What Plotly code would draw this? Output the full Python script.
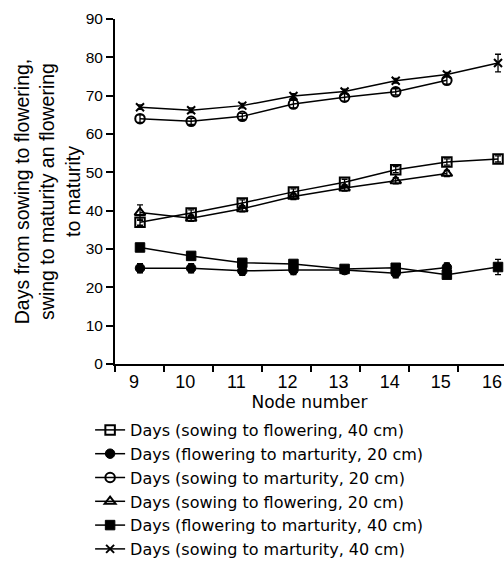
import plotly.graph_objects as go

nodes = [9, 10, 11, 12, 13, 14, 15, 16]

sow_flow_40 = [37.0, 39.4, 42.0, 44.9, 47.4, 50.7, 52.7, 53.5]
sow_flow_40_err = [0.8, 0.8, 0.8, 0.8, 0.8, 0.8, 0.8, 0.8]

flow_mat_20 = [25.0, 25.0, 24.3, 24.5, 24.5, 23.7, 25.2, None]
flow_mat_20_err = [1.2, 1.2, 1.2, 1.2, 1.0, 1.2, 1.2, 0]

sow_mat_20 = [64.0, 63.3, 64.6, 67.8, 69.6, 71.0, 74.0, None]
sow_mat_20_err = [1.0, 0.8, 0.8, 1.0, 1.0, 0.8, 1.0, 0]

sow_flow_20 = [39.5, 38.0, 40.5, 43.7, 45.9, 47.8, 49.7, None]
sow_flow_20_err = [2.0, 0.8, 0.8, 0.8, 0.8, 0.8, 0.8, 0]

flow_mat_40 = [30.4, 28.2, 26.4, 26.1, 24.8, 25.1, 23.3, 25.3]
flow_mat_40_err = [1.0, 0.8, 0.8, 0.8, 0.8, 0.8, 0.8, 2.0]

sow_mat_40 = [67.0, 66.2, 67.4, 69.9, 71.1, 73.9, 75.5, 78.5]
sow_mat_40_err = [0.6, 0.6, 0.6, 0.6, 0.6, 0.6, 0.6, 2.3]

y_ticks = [0, 10, 20, 30, 40, 50, 60, 70, 80, 90]

series = [
    ("Days (sowing to flowering, 40 cm)", sow_flow_40, sow_flow_40_err, "square-open"),
    ("Days (flowering to marturity, 20 cm)", flow_mat_20, flow_mat_20_err, "circle"),
    ("Days (sowing to marturity, 20 cm)", sow_mat_20, sow_mat_20_err, "circle-open"),
    ("Days (sowing to flowering, 20 cm)", sow_flow_20, sow_flow_20_err, "triangle-up-open"),
    ("Days (flowering to marturity, 40 cm)", flow_mat_40, flow_mat_40_err, "square"),
    ("Days (sowing to marturity, 40 cm)", sow_mat_40, sow_mat_40_err, "x-thin-open"),
]

TICKFONT = "Liberation Sans, Arial, sans-serif"
TEXTFONT = "DejaVu Sans, Verdana, sans-serif"

fig = go.Figure()
for name, vals, err, sym in series:
    xs = [n for n, v in zip(nodes, vals) if v is not None]
    ys = [v for v in vals if v is not None]
    es = [e for e, v in zip(err, vals) if v is not None]
    fig.add_trace(go.Scatter(
        x=xs, y=ys, name=name, mode="lines+markers",
        line=dict(color="black", width=1.5),
        marker=dict(symbol=sym, size=9.5 if "x" not in sym else 8, color="black",
                    line=dict(color="black", width=2 if "open" in sym else 1)),
        error_y=dict(type="data", array=es, color="black", thickness=1.3, width=3),
        cliponaxis=False,
    ))

fig.update_layout(
    width=504, height=578,
    margin=dict(l=115, r=0, t=19, b=214),
    plot_bgcolor="white", paper_bgcolor="white",
    font=dict(family=TEXTFONT, size=16, color="black"),
    showlegend=True,
    legend=dict(x=-0.064, y=-0.142, xanchor="left", yanchor="top",
                font=dict(family=TEXTFONT, size=16, color="black"), itemwidth=30,
                tracegroupgap=0, bgcolor="rgba(0,0,0,0)"),
)
fig.update_xaxes(
    range=[8.511, 16.117], tickvals=nodes, ticktext=[str(n) for n in nodes],
    ticks="", showline=True, linecolor="black", linewidth=2,
    showgrid=False, zeroline=False,
    tickfont=dict(family=TICKFONT, size=18),
    ticklabeloverflow="allow", ticklabelshift=-6,
    minor=dict(ticks="outside", tick0=8.511, dtick=0.958, ticklen=6,
               tickwidth=2, tickcolor="black", showgrid=False),
    title=dict(text="Node number", font=dict(family=TEXTFONT, size=17), standoff=2),
)
fig.update_yaxes(
    range=[0, 90], tickvals=y_ticks, ticks="outside", ticklen=7, tickwidth=2,
    tickcolor="black", showline=True, linecolor="black", linewidth=2,
    showgrid=False, zeroline=False,
    tickfont=dict(family=TICKFONT, size=15.5),
    title=dict(text="Days from sowing to flowering,<br>swing to maturity an flowering<br>to maturity",
               font=dict(family=TICKFONT, size=19.5), standoff=0),
)

fig.write_html(
    "out.html",
    config={"displayModeBar": False},
    post_script="document.body.style.margin='0px';document.documentElement.style.overflow='hidden';",
)
